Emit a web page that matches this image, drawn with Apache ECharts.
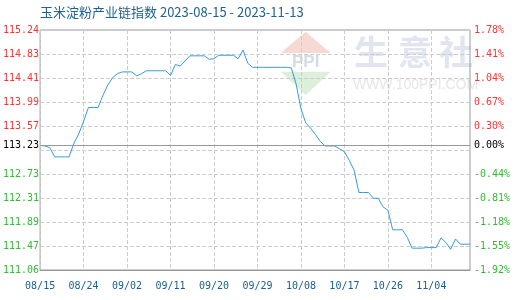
<!DOCTYPE html>
<html>
<head>
<meta charset="utf-8">
<script src="https://cdn.jsdelivr.net/npm/echarts@6/dist/echarts.min.js"></script>
<style>html,body{margin:0;padding:0;background:#fff;}#c{width:520px;height:300px;}</style>
</head>
<body>
<div id="c"></div>
<script>
var dates = ['08/15','08/16','08/17','08/18','08/19','08/20','08/21','08/22','08/23','08/24',
'08/25','08/26','08/27','08/28','08/29','08/30','08/31','09/01','09/02','09/03',
'09/04','09/05','09/06','09/07','09/08','09/09','09/10','09/11','09/12','09/13',
'09/14','09/15','09/16','09/17','09/18','09/19','09/20','09/21','09/22','09/23',
'09/24','09/25','09/26','09/27','09/28','09/29','09/30','10/01','10/02','10/03',
'10/04','10/05','10/06','10/07','10/08','10/09','10/10','10/11','10/12','10/13',
'10/14','10/15','10/16','10/17','10/18','10/19','10/20','10/21','10/22','10/23',
'10/24','10/25','10/26','10/27','10/28','10/29','10/30','10/31','11/01','11/02',
'11/03','11/04','11/05','11/06','11/07','11/08','11/09','11/10','11/11','11/12'];

var indexValues = [113.23,113.22,113.19,113.03,113.03,113.03,113.03,113.27,113.43,113.65,
113.89,113.89,113.89,114.10,114.28,114.41,114.48,114.51,114.51,114.51,
114.44,114.48,114.53,114.53,114.53,114.53,114.53,114.45,114.64,114.61,
114.70,114.79,114.79,114.79,114.79,114.73,114.74,114.80,114.80,114.80,
114.80,114.74,114.89,114.66,114.59,114.59,114.59,114.59,114.59,114.59,
114.59,114.59,114.58,114.30,113.87,113.62,113.53,113.42,113.30,113.22,
113.22,113.22,113.17,113.12,112.97,112.80,112.41,112.41,112.41,112.31,
112.31,112.16,112.10,111.76,111.76,111.76,111.63,111.44,111.44,111.44,
111.45,111.45,111.45,111.62,111.54,111.42,111.60,111.51,111.51,111.51];

var baseValue = 113.23;
var yMin = 111.06, yMax = 115.24;
var leftTicks = ['111.06','111.47','111.89','112.31','112.73','','113.57','113.99','114.41','114.83','115.24'];
var rightTicks = ['-1.92%','-1.55%','-1.18%','-0.81%','-0.44%','','0.30%','0.67%','1.04%','1.41%','1.78%'];
var titleText = '玉米淀粉产业链指数 2023-08-15 - 2023-11-13';

var RED = '#ff3333', GREEN = '#33bb33';
var monoFont = 'DejaVu Sans Mono';

var chart = echarts.init(document.getElementById('c'), null, {renderer: 'canvas'});
chart.setOption({
  animation: false,
  backgroundColor: '#fff',
  title: {
    text: titleText, left: 40, top: 6, padding: 0,
    textStyle: {fontSize: 13, fontWeight: 'normal', color: '#1f6390', fontFamily: 'Noto Sans CJK SC'}
  },
  graphic: [
    {type: 'polygon', z: -5, silent: true, shape: {points: [[305.7,31.7],[280.7,53],[330.7,53]]}, style: {fill: '#f7d9d3'}},
    {type: 'text', z: -5, silent: true, style: {text: 'PPI', x: 305.7, y: 62, align: 'center', verticalAlign: 'middle', font: 'bold 17px "Liberation Sans"', fill: '#d3dbe9'}},
    {type: 'polygon', z: -5, silent: true, shape: {points: [[280.7,71.7],[330.7,71.7],[305.7,95]]}, style: {fill: '#dbefdb'}},
    {type: 'text', z: -5, silent: true, style: {text: '生', x: 371, y: 52, align: 'center', verticalAlign: 'middle', font: 'bold 34px "Noto Sans CJK SC"', fill: '#e0e5ef'}},
    {type: 'text', z: -5, silent: true, style: {text: '意', x: 415, y: 52, align: 'center', verticalAlign: 'middle', font: 'bold 34px "Noto Sans CJK SC"', fill: '#e0e5ef'}},
    {type: 'text', z: -5, silent: true, style: {text: '社', x: 456, y: 52, align: 'center', verticalAlign: 'middle', font: 'bold 34px "Noto Sans CJK SC"', fill: '#e0e5ef'}},
    {type: 'text', z: -5, silent: true, style: {text: 'WWW.100PPI.COM', x: 415.5, y: 85.5, align: 'center', verticalAlign: 'middle', font: '14px "Liberation Sans"', fill: '#e6e6e6'}}
  ],
  grid: {left: 40, right: 50, top: 30, bottom: 30, show: true, borderColor: '#999', borderWidth: 1, backgroundColor: 'transparent'},
  xAxis: {
    type: 'category', data: dates, boundaryGap: false,
    axisLine: {show: true, lineStyle: {color: '#999'}},
    axisTick: {show: false},
    axisLabel: {interval: 8, margin: 11, color: '#1a5f8e', fontSize: 10, fontFamily: monoFont},
    splitLine: {show: true, interval: 8, lineStyle: {color: '#ccc', type: 'dashed', width: 1}}
  },
  yAxis: [
    {type: 'value', min: yMin, max: yMax, show: false, splitLine: {show: false}},
    {type: 'value', position: 'left', min: 0, max: 10, interval: 1,
      axisLine: {show: false}, axisTick: {show: false},
      axisLabel: {margin: 1, fontSize: 10, fontFamily: monoFont,
        formatter: function (v) { return leftTicks[v] || ''; },
        color: function (v) { return v < 5 ? GREEN : RED; }},
      splitLine: {show: true, lineStyle: {color: '#ccc', type: 'dashed', width: 1}}},
    {type: 'value', position: 'right', min: 0, max: 10, interval: 1,
      axisLine: {show: false}, axisTick: {show: false},
      axisLabel: {margin: 4, fontSize: 10, fontFamily: monoFont,
        formatter: function (v) { return rightTicks[v] || ''; },
        color: function (v) { return v < 5 ? GREEN : RED; }},
      splitLine: {show: false}}
  ],
  series: [{
    type: 'line', yAxisIndex: 0, data: indexValues, symbol: 'none', smooth: false,
    lineStyle: {color: '#3a9ad9', width: 1},
    markLine: {
      silent: true, symbol: 'none', animation: false,
      lineStyle: {color: '#999', type: 'solid', width: 1},
      data: [
        {yAxis: baseValue, label: {show: true, position: 'start', distance: 1, formatter: baseValue.toFixed(2), color: '#000', fontSize: 10, fontWeight: 'normal', fontFamily: monoFont, textBorderWidth: 0}},
        {yAxis: baseValue, label: {show: true, position: 'end', distance: 4, formatter: '0.00%', color: '#000', fontSize: 10, fontWeight: 'normal', fontFamily: monoFont, textBorderWidth: 0}}
      ]
    }
  }]
});
</script>
</body>
</html>
